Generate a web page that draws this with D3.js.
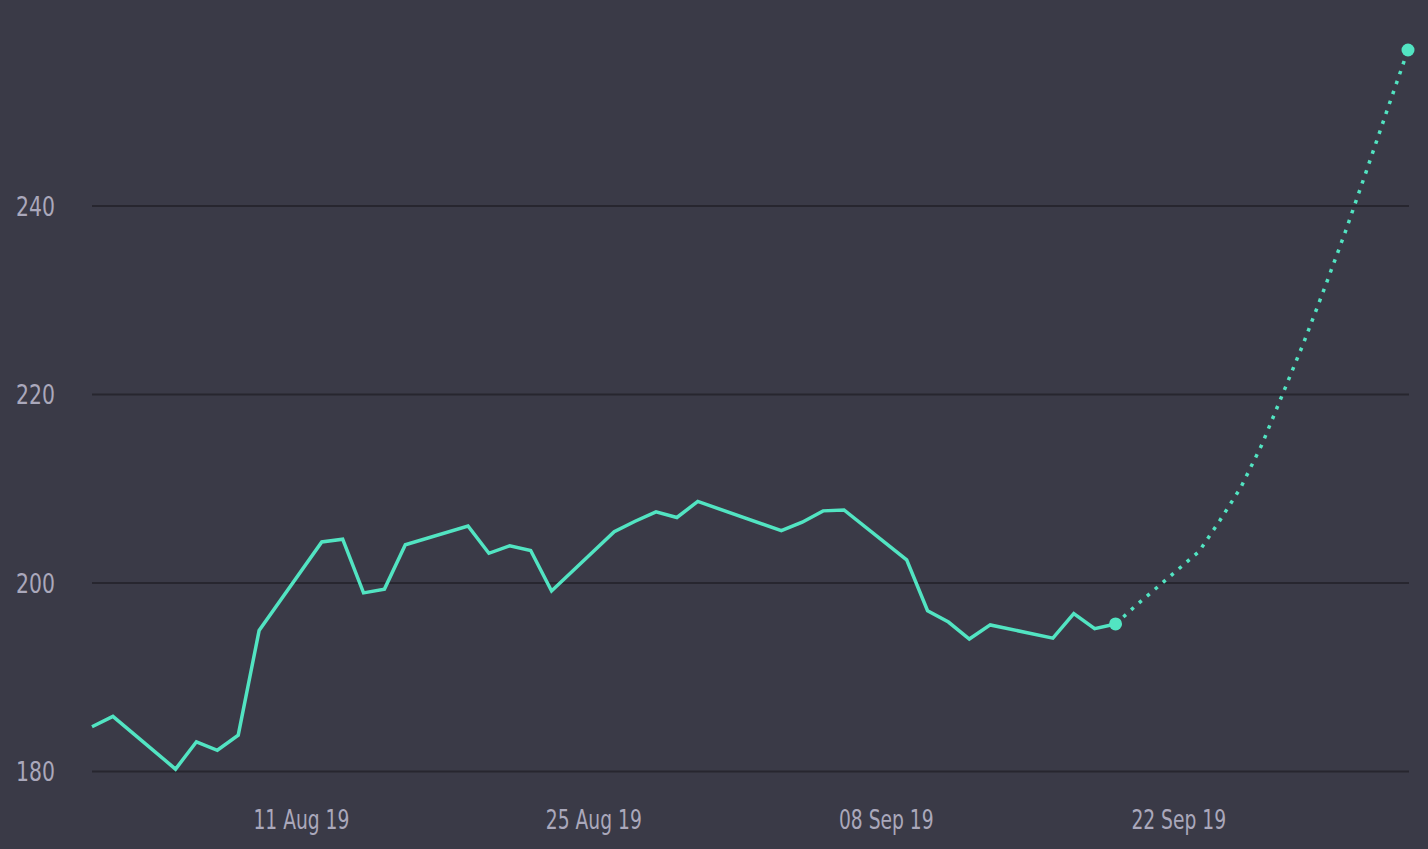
<!DOCTYPE html>
<html>
<head>
<meta charset="utf-8">
<script src="https://cdn.jsdelivr.net/npm/d3@7"></script>
<style>
  html, body { margin: 0; padding: 0; background: #3a3a47; overflow: hidden; }
  .tick text { font-family: "DejaVu Sans Condensed", "DejaVu Sans", sans-serif; fill: #aaa8bb; }
</style>
</head>
<body>
<svg id="chart"></svg>
<script>
"use strict";

// price history (trading days)
const historyDates = [
    "2019-08-01", "2019-08-02", "2019-08-05", "2019-08-06", "2019-08-07", "2019-08-08", "2019-08-09",
    "2019-08-12", "2019-08-13", "2019-08-14", "2019-08-15", "2019-08-16",
    "2019-08-19", "2019-08-20", "2019-08-21", "2019-08-22", "2019-08-23",
    "2019-08-26", "2019-08-27", "2019-08-28", "2019-08-29", "2019-08-30",
    "2019-09-03", "2019-09-04", "2019-09-05", "2019-09-06",
    "2019-09-09", "2019-09-10", "2019-09-11", "2019-09-12", "2019-09-13",
    "2019-09-16", "2019-09-17", "2019-09-18", "2019-09-19"
];
const historyValues = [
    184.7, 185.8, 180.2, 183.1, 182.2, 183.8, 194.9,
    204.3, 204.6, 198.9, 199.3, 204.0,
    206.0, 203.1, 203.9, 203.4, 199.1,
    205.4, 206.5, 207.5, 206.9, 208.6,
    205.5, 206.4, 207.6, 207.7,
    202.4, 197.0, 195.8, 194.0, 195.5,
    194.1, 196.7, 195.1, 195.6
];

// forecast, starting from the last real point
const forecastDates = [
    "2019-09-19", "2019-09-20", "2019-09-23", "2019-09-24", "2019-09-25", "2019-09-26",
    "2019-09-27", "2019-09-28", "2019-09-29", "2019-09-30", "2019-10-01", "2019-10-02", "2019-10-03"
];
const forecastValues = [
    195.6, 197.6, 203.3, 206.6, 210.1, 214.6,
    220.0, 225.4, 231.2, 237.2, 243.6, 250.1, 256.5
];

const xTickDates = ["2019-08-11", "2019-08-25", "2019-09-08", "2019-09-22"];
const yTickValues = [180, 200, 220, 240];

const WIDTH = 1428;
const HEIGHT = 849;
const LINE_COLOR = "#52e4c2";
// the original uses a narrow font, squeeze the condensed one a bit more
const X_SQUEEZE = 0.77;
const Y_SQUEEZE = 0.84;

const parse = d3.utcParse("%Y-%m-%d");
const history = historyDates.map((d, i) => ({ date: parse(d), value: historyValues[i] }));
const forecast = forecastDates.map((d, i) => ({ date: parse(d), value: forecastValues[i] }));

const svg = d3.select("#chart")
    .attr("width", WIDTH)
    .attr("height", HEIGHT);

svg.append("rect")
    .attr("width", WIDTH)
    .attr("height", HEIGHT)
    .attr("fill", "#3a3a47");

const xScale = d3.scaleUtc()
    .domain([parse("2019-08-01"), parse("2019-10-03")])
    .range([92, 1408]);
const yScale = d3.scaleLinear()
    .domain([180, 240])
    .range([771, 205.5]);

// grid + y labels
const yAxis = svg.append("g")
    .attr("transform", "translate(92,0)")
    .call(d3.axisLeft(yScale)
        .tickValues(yTickValues)
        .tickSize(-1317)
        .tickPadding(37)
        .tickFormat(d3.format("d")));
yAxis.select(".domain").remove();
yAxis.selectAll(".tick line")
    .attr("stroke", "#27262f")
    .attr("stroke-width", 2);
yAxis.selectAll(".tick text")
    .attr("font-size", 27)
    .attr("x", -37 / Y_SQUEEZE)
    .attr("dy", "0.37em")
    .attr("transform", `scale(${Y_SQUEEZE},1)`);

// x labels
const xAxis = svg.append("g")
    .attr("transform", "translate(0,771)")
    .call(d3.axisBottom(xScale)
        .tickValues(xTickDates.map(parse))
        .tickSize(0)
        .tickPadding(48)
        .tickFormat(d3.utcFormat("%d %b %y")));
xAxis.select(".domain").remove();
xAxis.selectAll(".tick text")
    .attr("font-size", 27)
    .attr("dy", "0.37em")
    .attr("transform", `scale(${X_SQUEEZE},1)`);

const line = d3.line()
    .x(d => xScale(d.date))
    .y(d => yScale(d.value));

svg.append("path")
    .datum(history)
    .attr("fill", "none")
    .attr("stroke", LINE_COLOR)
    .attr("stroke-width", 3.5)
    .attr("stroke-linejoin", "miter")
    .attr("d", line);

svg.append("path")
    .datum(forecast)
    .attr("fill", "none")
    .attr("stroke", LINE_COLOR)
    .attr("stroke-width", 3.5)
    .attr("stroke-dasharray", "3.5 7")
    .attr("d", line);

// end points of the real and forecast lines
const endPoints = [history[history.length - 1], forecast[forecast.length - 1]];
svg.selectAll("circle.end")
    .data(endPoints)
    .join("circle")
    .attr("class", "end")
    .attr("cx", d => xScale(d.date))
    .attr("cy", d => yScale(d.value))
    .attr("r", 6.5)
    .attr("fill", LINE_COLOR);
</script>
</body>
</html>
